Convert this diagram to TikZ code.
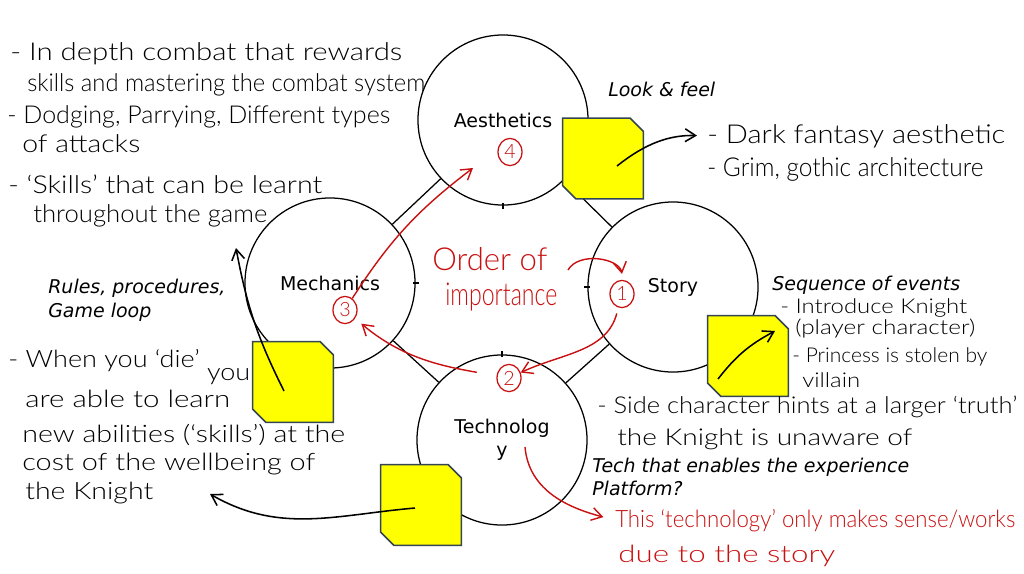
\documentclass[tikz,border=0pt]{standalone}
\usepackage{fontspec}
\setmainfont{DejaVu Sans}
\newfontfamily\handfont{Lato Light}
\usetikzlibrary{shapes.geometric,arrows.meta}
\definecolor{notefill}{RGB}{255,255,0}
\definecolor{noteline}{RGB}{52,68,82}
\definecolor{pen}{RGB}{200,16,16}
\newlength\pxu \setlength\pxu{0.025cm}
\newcommand\hw[2]{\resizebox{#1\pxu}{\height}{#2}}

\begin{document}
\begin{tikzpicture}[x=0.025cm,y=0.025cm,>={Straight Barb[length=2.6mm,width=3.2mm]},
	part/.style={circle, draw, line width=0.9pt, minimum size=4.25cm, inner sep=0pt, align=center, font=\fontsize{13.5pt}{16.4pt}\selectfont},
	note/.style={rectangle, minimum width=2cm, minimum height=2cm, inner sep=0pt},
	hand/.style={anchor=base west, inner sep=0pt, font=\handfont\fontsize{#1}{#1}\selectfont},
	typed/.style={anchor=base west, inner sep=0pt, font=\itshape\fontsize{13.5pt}{16pt}\selectfont},
	num/.style={ellipse, draw=pen, text=pen, line width=0.9pt, minimum width=0.6cm, minimum height=0.68cm, inner sep=0pt, font=\handfont\fontsize{14pt}{14pt}\selectfont},
	link/.style={line width=0.9pt},
	inkarrow/.style={->, line width=1.1pt},
	redarrow/.style={->, draw=pen, line width=1pt}]
	\useasboundingbox (0,0) rectangle (1024,-573);

	% the four parts
	\node[part] (aes) at (503,-120) {Aesthetics};
	\node[part] (mech) at (330,-283) {Mechanics};
	\node[part] (story) at (673,-287) {Story};
	\node[part] (tech) at (502,-440) {Technolog\\y};
	\draw[link] (mech) -- (aes);
	\draw[link] (aes) -- (story);
	\draw[link] (mech) -- (tech);
	\draw[link] (story) -- (tech);
	\foreach \n/\a/\dx/\dy in {aes/south/0/3, tech/north/0/3, mech/east/3/0, story/west/3/0}
		\draw[link] (\n.\a) ++(\dx,\dy) -- ++(-2*\dx,-2*\dy);

	% typed notes
	\node[typed] (look) at (608,-96) {Look \& feel};
	\node[typed] (seq) at (772,-290) {Sequence of events};
	\node[typed] (rules) at (48,-293) {Rules, procedures,};
	\node[typed] (loop) at (48,-317) {Game loop};
	\node[typed] (techwhat) at (592,-472) {Tech that enables the experience};
	\node[typed] (platform) at (592,-495) {Platform?};

	% sticky notes
	\node[note] (aesbox) at (603,-158.5) {};
	\node[note] (storybox) at (748,-356) {};
	\node[note] (mechbox) at (293,-382) {};
	\node[note] (techbox) at (421,-505) {};
	\foreach \b in {aesbox,storybox,mechbox,techbox}
		\filldraw[fill=notefill, draw=noteline, line width=1.1pt]
			(\b.north west) -- ([xshift=-9.3pt]\b.north east) -- ([yshift=-9.3pt]\b.north east)
			-- (\b.south east) -- ([xshift=9.3pt]\b.south west) -- ([yshift=9.3pt]\b.south west) -- cycle;

	% handwritten notes
	\node[hand=17.5pt] (tl1) at (10,-60) {\hw{392}{- In depth combat that rewards}};
	\node[hand=17.5pt] (tl2) at (27,-91) {\hw{398}{skills and mastering the combat system}};
	\node[hand=17.5pt] (tl3) at (7,-123) {\hw{383}{- Dodging, Parrying, Different types}};
	\node[hand=17.5pt] (tl4) at (22,-152) {\hw{118}{of attacks}};
	\node[hand=17.5pt] (tl5) at (8,-193) {\hw{314}{- ‘Skills’ that can be learnt}};
	\node[hand=17.5pt] (tl6) at (33,-222) {\hw{234}{throughout the game}};
	\node[hand=18.5pt] (dark) at (707,-143) {\hw{298}{- Dark fantasy aesthetic}};
	\node[hand=18.5pt] (grim) at (707,-176) {\hw{276}{- Grim, gothic architecture}};
	\node[hand=14.5pt] (sr1) at (780,-313) {\hw{187}{- Introduce Knight}};
	\node[hand=14.5pt] (sr2) at (795,-334) {\hw{180}{(player character)}};
	\node[hand=14.5pt] (sr3) at (792,-362) {\hw{195}{- Princess is stolen by}};
	\node[hand=14.5pt] (sr4) at (802,-387) {\hw{58}{villain}};
	\node[hand=16.5pt] (sr5) at (597,-413) {\hw{420}{- Side character hints at a larger ‘truth’}};
	\node[hand=16.5pt] (sr6) at (617,-445) {\hw{295}{the Knight is unaware of}};
	\node[hand=17pt] (ml1) at (8,-367) {\hw{242}{- When you ‘die’ \raisebox{-13\pxu}{you}}};
	\node[hand=17pt] (ml2) at (25,-407) {\hw{205}{are able to learn}};
	\node[hand=17pt] (ml3) at (22,-442) {\hw{323}{new abilities (‘skills’) at the}};
	\node[hand=17pt] (ml4) at (22,-470) {\hw{293}{cost of the wellbeing of}};
	\node[hand=17pt] (ml5) at (25,-499) {\hw{128}{the Knight}};
	\node[hand=17pt, text=pen] (red1) at (615,-527) {\hw{400}{This ‘technology’ only makes sense/works}};
	\node[hand=17pt, text=pen] (red2) at (618,-562) {\hw{217}{due to the story}};

	% order of importance
	\node[hand=22.5pt, text=pen] (order1) at (432,-270) {\hw{115}{Order of}};
	\node[hand=22.5pt, text=pen] (order2) at (445,-305) {\hw{112}{importance}};
	\node[num] (r4) at (510,-152) {4};
	\node[num] (r3) at (345,-310) {3};
	\node[num] (r1) at (622,-294) {1};
	\node[num] (r2) at (509,-378) {2};

	% arrow ends
	\coordinate (aespin) at (617,-166);
	\coordinate (storypin) at (718,-379);
	\coordinate (storytip) at (775,-331);
	\coordinate (mechpin) at (284,-391);
	\coordinate (mechtip) at (236,-248);
	\coordinate (techpin) at (415,-508);
	\coordinate (techtip) at (210,-494);
	\coordinate (aestip) at (473,-168);
	\coordinate (ordtail) at (568,-270);
	\coordinate (techtail) at (525,-447);

	\draw[inkarrow, shorten >=0.25cm] (aespin) to[bend left=20] (dark.west);
	\draw[inkarrow] (storypin) to[bend left=12] (storytip);
	\draw[inkarrow] (mechpin) to[bend left=8] (mechtip);
	\draw[inkarrow] (techpin) to[out=185,in=-30] (techtip);

	\draw[redarrow] (r3) to[bend left=10] (aestip);
	\draw[redarrow, shorten >=0.15cm] (ordtail) to[bend left=70] (r1);
	\draw[redarrow, shorten <=0.15cm] (r1) to[out=-105,in=25] (r2);
	\draw[redarrow, shorten <=0.5cm, shorten >=0.2cm] (r2) to[out=170,in=-40] (r3);
	\draw[redarrow, shorten >=0.3cm] (techtail) to[out=-85,in=165] (red1.west);
\end{tikzpicture}
\end{document}
